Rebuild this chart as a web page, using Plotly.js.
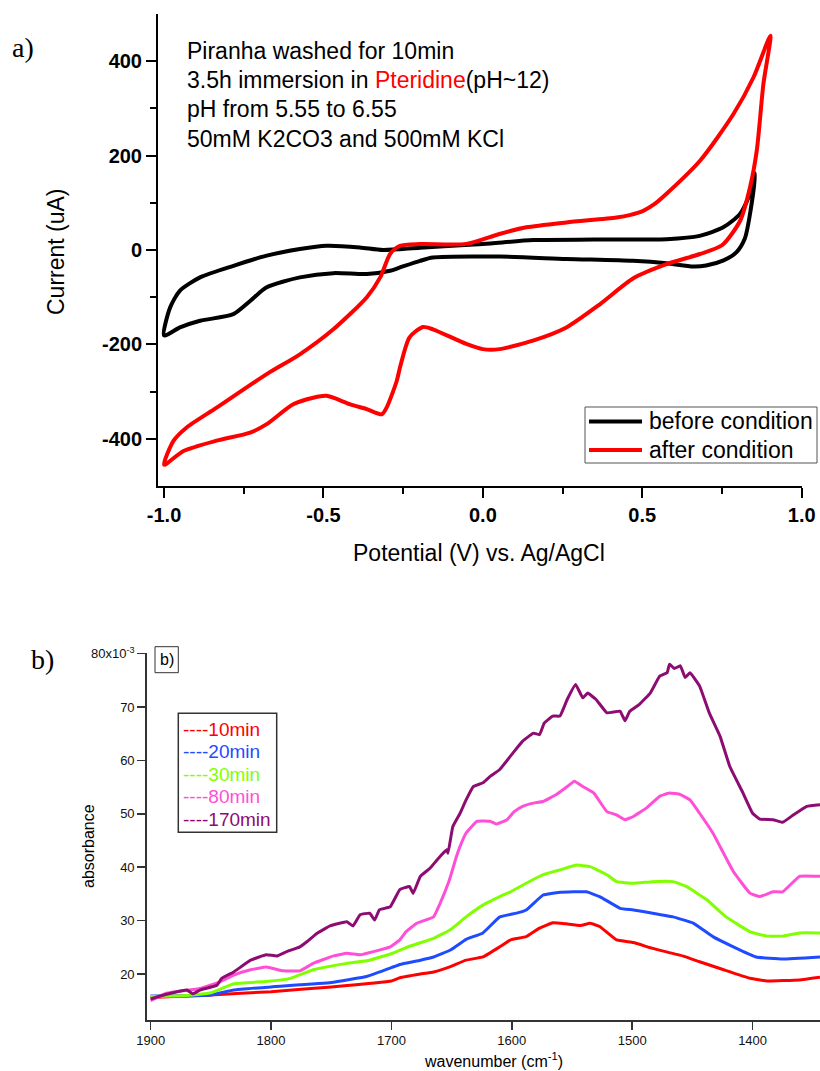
<!DOCTYPE html>
<html>
<head>
<meta charset="utf-8">
<script src="https://cdn.plot.ly/plotly-3.0.1.min.js"></script>
<style>html,body{margin:0;padding:0;background:#fff;}#chart{width:820px;height:1071px;}</style>
</head>
<body>
<div id="chart"></div>
<script>
// ---------- Panel a) cyclic voltammetry data ----------
const beforePotential = [-1.0, -0.981, -0.95, -0.887, -0.78, -0.678, -0.574, -0.49, -0.386, -0.313, -0.197, 0.0, 0.158, 0.35, 0.576, 0.68, 0.754, 0.807, 0.835, 0.854,
  0.84, 0.822, 0.795, 0.755, 0.70, 0.66, 0.576, 0.471, 0.262, 0.052, -0.157, -0.197, -0.26, -0.291, -0.364, -0.469, -0.574, -0.678, -0.73, -0.783, -0.887, -0.95, -1.0];
const beforeCurrent = [-181, -122, -86, -58, -33, -12, 2, 9, 5.5, 0, 5, 12.7, 21, 22, 23, 30, 48, 77, 115, 162,
  85, 25, -5, -22, -33, -35, -28, -23, -19, -14, -16, -23, -37, -44, -51, -49, -58, -79, -108, -136, -150, -164, -181];

const afterPotential = [-1.0, -0.97, -0.929, -0.835, -0.678, -0.574, -0.469, -0.364, -0.322, -0.291, -0.26, -0.197, -0.052, 0.052, 0.136, 0.262, 0.419, 0.46, 0.503, 0.54, 0.576, 0.681, 0.786, 0.849, 0.902,
  0.880, 0.859, 0.838, 0.807, 0.75, 0.681, 0.576, 0.472, 0.367, 0.262, 0.157, 0.052, 0.0, -0.052, -0.157, -0.188, -0.23, -0.26, -0.27, -0.302, -0.317, -0.364, -0.416, -0.49, -0.532, -0.595, -0.678, -0.73, -0.835, -0.939, -1.0];
const afterCurrent = [-455, -404, -376, -334, -263, -221, -168, -100, -58, -8.5, 9, 12.7, 13, 34, 48, 58.5, 69, 74, 83, 98, 119, 189, 288, 366, 454,
  352, 210, 133, 62, 10, -8.5, -30, -60, -115, -164, -192, -210, -210, -199, -168, -163, -185, -249, -277, -334, -348, -337, -327, -309, -313, -327, -369, -387, -404, -426, -455];

const cvSeriesNames = ["before condition", "after condition"];
const cvXTickVals = [-1.0, -0.5, 0.0, 0.5, 1.0];
const cvXTickText = ["-1.0", "-0.5", "0.0", "0.5", "1.0"];
const cvYTickVals = [-400, -200, 0, 200, 400];
const cvYTickText = ["-400", "-200", "0", "200", "400"];

// ---------- Panel b) IR absorbance data (values in 10^-3) ----------
const wn10 = [1900, 1870, 1850, 1800, 1750, 1700, 1693, 1676, 1665, 1651, 1638, 1624, 1610, 1601, 1588, 1577, 1566, 1555, 1543, 1535, 1527, 1513, 1499, 1483, 1458, 1444, 1424, 1402, 1388, 1361, 1344];
const abs10 = [15.6, 15.9, 16.1, 16.7, 17.6, 18.7, 19.3, 20.0, 20.4, 21.4, 22.6, 23.2, 25.1, 26.4, 27.0, 28.6, 29.6, 29.4, 29.1, 29.5, 28.9, 26.4, 25.9, 24.8, 23.4, 22.3, 20.8, 19.2, 18.7, 18.9, 19.4];

const wn20 = [1900, 1880, 1850, 1831, 1800, 1750, 1720, 1700, 1693, 1676, 1665, 1651, 1638, 1624, 1610, 1596, 1588, 1574, 1560, 1538, 1527, 1510, 1499, 1483, 1466, 1449, 1433, 1416, 1397, 1375, 1344];
const abs20 = [15.9, 15.9, 16.1, 17.0, 17.6, 18.4, 19.6, 21.2, 21.8, 22.6, 23.2, 24.5, 26.5, 27.7, 30.7, 31.4, 32.0, 34.8, 35.3, 35.4, 34.5, 32.3, 32.0, 31.4, 30.7, 29.5, 27.0, 25.1, 23.2, 22.8, 23.2];

const wn30 = [1900, 1870, 1850, 1831, 1804, 1784, 1765, 1737, 1718, 1699, 1685, 1665, 1651, 1638, 1624, 1610, 1601, 1588, 1574, 1560, 1546, 1535, 1521, 1513, 1499, 1483, 1466, 1455, 1438, 1422, 1402, 1388, 1375, 1361, 1344];
const abs30 = [15.8, 16.0, 16.5, 18.2, 18.6, 19.2, 20.8, 22.0, 22.6, 23.9, 25.2, 26.7, 28.3, 30.7, 32.9, 34.5, 35.4, 37.0, 38.6, 39.5, 40.4, 40.1, 38.6, 37.3, 37.0, 37.3, 37.3, 36.4, 33.9, 30.7, 27.9, 27.1, 27.1, 27.7, 27.7];

const wn80 = [1900, 1887, 1859, 1842, 1831, 1817, 1804, 1790, 1776, 1765, 1748, 1737, 1726, 1715, 1701, 1693, 1688, 1679, 1665, 1660, 1652, 1646, 1643, 1638, 1629, 1618, 1613, 1604, 1598, 1591, 1582, 1574, 1563, 1554, 1548, 1541, 1532, 1521, 1513, 1506, 1499, 1488, 1477, 1469, 1460, 1452, 1444, 1433, 1416, 1402, 1394, 1383, 1375, 1361, 1344];
const abs80 = [15.0, 16.4, 17.3, 18.6, 19.8, 20.8, 21.3, 20.6, 20.6, 22.0, 23.4, 23.9, 23.6, 24.2, 25.1, 26.4, 27.9, 29.5, 30.7, 33.0, 37.5, 42.0, 43.9, 46.4, 48.6, 48.6, 48.1, 48.9, 50.4, 51.4, 52.0, 52.3, 53.6, 55.1, 56.1, 55.1, 53.9, 50.4, 49.8, 48.9, 49.5, 51.1, 53.3, 53.9, 53.6, 52.6, 50.1, 46.4, 39.2, 35.1, 34.5, 35.4, 35.4, 38.3, 38.3];

const wn170 = [1900, 1895, 1878, 1870, 1865, 1859, 1845, 1841, 1831, 1817, 1804, 1795, 1787, 1776, 1770, 1762, 1751, 1737, 1732, 1726, 1718, 1714, 1710, 1701, 1693, 1685, 1682, 1676, 1668, 1662, 1654, 1653, 1649, 1643, 1638, 1632, 1624, 1618, 1610, 1599, 1591, 1582, 1577, 1573, 1566, 1560, 1554, 1547, 1541, 1537, 1530, 1521, 1510, 1506, 1502, 1494, 1485, 1477, 1471, 1469, 1465, 1460, 1456, 1452, 1444, 1436, 1427, 1419, 1408, 1400, 1394, 1383, 1375, 1366, 1355, 1344];
const abs170 = [15.3, 15.7, 16.7, 17.0, 16.3, 17.0, 17.9, 19.2, 20.4, 22.6, 23.6, 23.4, 24.2, 25.1, 26.1, 27.6, 29.0, 29.8, 29.0, 31.1, 31.4, 30.1, 32.0, 32.6, 35.8, 36.4, 35.1, 38.3, 39.8, 41.4, 43.3, 42.6, 47.6, 50.1, 52.6, 55.1, 55.8, 57.0, 58.3, 61.4, 63.6, 65.1, 64.8, 67.0, 68.3, 68.3, 71.4, 74.2, 71.7, 72.6, 71.4, 68.9, 69.2, 67.4, 69.2, 70.5, 72.6, 75.8, 76.4, 78.0, 77.2, 77.7, 75.5, 76.4, 73.9, 68.9, 64.5, 58.9, 53.9, 50.1, 49.0, 48.9, 48.4, 49.8, 51.4, 51.7];

const irNames = ["10min", "20min", "30min", "80min", "170min"];
const irXTickVals = [1900, 1800, 1700, 1600, 1500, 1400];
const irXTickText = ["1900", "1800", "1700", "1600", "1500", "1400"];
const irYTickVals = [20, 30, 40, 50, 60, 70, 80];
const irYTickText = ["20", "30", "40", "50", "60", "70", "80x10<sup>-3</sup>"];

// ---------- styling / layout ----------
const W = 820, H = 1071;
const px = v => v / W;
const py = v => 1 - v / H;
const SANS = "Liberation Sans, Arial, Helvetica, sans-serif";
const SERIF = "Liberation Serif, Times New Roman, serif";
const cvColors = ["#000000", "#ff0000"];
const irColors = ["#ff0000", "#1f4bff", "#80ff00", "#ff4fd6", "#8c0c72"];

const traces = [
  {x: beforePotential, y: beforeCurrent, name: cvSeriesNames[0], type: "scatter", mode: "lines",
   line: {color: cvColors[0], width: 4, shape: "spline", smoothing: 0.7}, xaxis: "x", yaxis: "y", showlegend: false},
  {x: afterPotential, y: afterCurrent, name: cvSeriesNames[1], type: "scatter", mode: "lines",
   line: {color: cvColors[1], width: 4, shape: "spline", smoothing: 0.7}, xaxis: "x", yaxis: "y", showlegend: false}
];
const irX = [wn10, wn20, wn30, wn80, wn170];
const irY = [abs10, abs20, abs30, abs80, abs170];
for (let i = 0; i < irNames.length; i++) {
  traces.push({x: irX[i], y: irY[i], name: irNames[i], type: "scatter", mode: "lines",
    line: {color: irColors[i], width: 3, shape: "spline", smoothing: 0.3}, xaxis: "x2", yaxis: "y2", showlegend: false});
}

const annotations = [
  {text: "a)", x: px(23), y: py(48), xref: "paper", yref: "paper", showarrow: false, xanchor: "center", yanchor: "middle", font: {family: SERIF, size: 28, color: "#000"}},
  {text: "b)", x: px(42), y: py(659), xref: "paper", yref: "paper", showarrow: false, xanchor: "center", yanchor: "middle", font: {family: SERIF, size: 28, color: "#000"}},
  {text: "Current (uA)", textangle: -90, x: px(56), y: py(252), xref: "paper", yref: "paper", showarrow: false, xanchor: "center", yanchor: "middle", font: {family: SANS, size: 23, color: "#000"}},
  {text: "Potential (V) vs. Ag/AgCl", x: px(479), y: py(553), xref: "paper", yref: "paper", showarrow: false, xanchor: "center", yanchor: "middle", font: {family: SANS, size: 23, color: "#000"}},
  {text: "absorbance", textangle: -90, x: px(88), y: py(846), xref: "paper", yref: "paper", showarrow: false, xanchor: "center", yanchor: "middle", font: {family: SANS, size: 16, color: "#000"}},
  {text: "wavenumber (cm<sup>-1</sup>)", x: px(493), y: py(1060), xref: "paper", yref: "paper", showarrow: false, xanchor: "center", yanchor: "middle", font: {family: SANS, size: 16, color: "#000"}},
  {text: "b)", x: px(166.7), y: py(659.7), xref: "paper", yref: "paper", showarrow: false, xanchor: "center", yanchor: "middle", font: {family: SANS, size: 16, color: "#000"}}
];
const infoLines = ["Piranha washed for 10min",
  "3.5h immersion in <span style=\"color:#ff0000\">Pteridine</span>(pH~12)",
  "pH from 5.55 to 6.55",
  "50mM K2CO3 and 500mM KCl"];
const infoY = [51, 80.5, 109.5, 139];
infoLines.forEach((t, i) => annotations.push({text: t, x: px(185), y: py(infoY[i]), xref: "paper", yref: "paper", showarrow: false,
  xanchor: "left", yanchor: "middle", font: {family: SANS, size: 23, color: "#000"}}));

// legends drawn as boxes, line samples and labels
const shapes = [
  {type: "rect", xref: "paper", yref: "paper", x0: px(585), x1: px(817), y0: py(463), y1: py(407), line: {color: "#555", width: 1}, fillcolor: "#fff", layer: "above"},
  {type: "rect", xref: "paper", yref: "paper", x0: px(178.3), x1: px(276.7), y0: py(832.3), y1: py(713.3), line: {color: "#333", width: 1.5}, fillcolor: "rgba(0,0,0,0)", layer: "above"},
  {type: "rect", xref: "paper", yref: "paper", x0: px(155), x1: px(178.3), y0: py(672.7), y1: py(646.7), line: {color: "#333", width: 1}, fillcolor: "rgba(0,0,0,0)", layer: "above"}
];
const cvLegY = [421.5, 450];
cvSeriesNames.forEach((n, i) => {
  shapes.push({type: "line", xref: "paper", yref: "paper", x0: px(589), x1: px(642), y0: py(cvLegY[i]), y1: py(cvLegY[i]), line: {color: cvColors[i], width: 4}, layer: "above"});
  annotations.push({text: n, x: px(647), y: py(cvLegY[i]), xref: "paper", yref: "paper", showarrow: false, xanchor: "left", yanchor: "middle", font: {family: SANS, size: 23, color: "#000"}});
});
const irLegY = [729, 751.5, 774, 796.5, 819];
irNames.forEach((n, i) => annotations.push({text: "----" + n, x: px(181), y: py(irLegY[i]), xref: "paper", yref: "paper", showarrow: false,
  xanchor: "left", yanchor: "middle", font: {family: SANS, size: 19, color: irColors[i]}}));

const layout = {
  width: W, height: H,
  margin: {l: 0, r: 0, t: 0, b: 0, pad: 0},
  paper_bgcolor: "#fff", plot_bgcolor: "#fff",
  showlegend: false,
  xaxis: {domain: [px(158), px(802)], range: [-1.019, 1.001], anchor: "y", showgrid: false, zeroline: false,
    showline: true, linecolor: "#000", linewidth: 2, ticks: "outside", ticklen: 10, tickwidth: 2, tickcolor: "#000",
    tickmode: "array", tickvals: cvXTickVals, ticktext: cvXTickText, automargin: false,
    tickfont: {family: SANS, size: 20, color: "#000", weight: "bold"},
    minor: {tickmode: "array", tickvals: [-0.75, -0.25, 0.25, 0.75], ticks: "outside", ticklen: 6, tickwidth: 2, tickcolor: "#000", showgrid: false}},
  yaxis: {domain: [py(486), py(14)], range: [-500, 500], anchor: "x", showgrid: false, zeroline: false,
    showline: true, linecolor: "#000", linewidth: 2, ticks: "outside", ticklen: 10, tickwidth: 2, tickcolor: "#000",
    tickmode: "array", tickvals: cvYTickVals, ticktext: cvYTickText, automargin: false,
    tickfont: {family: SANS, size: 20, color: "#000", weight: "bold"},
    minor: {tickmode: "array", tickvals: [-300, -100, 100, 300], ticks: "outside", ticklen: 6, tickwidth: 2, tickcolor: "#000", showgrid: false}},
  xaxis2: {domain: [px(146.7), 1], range: [1903.3, 1344], anchor: "y2", showgrid: false, zeroline: false,
    showline: true, linecolor: "#333", linewidth: 1.5, ticks: "outside", ticklen: 8, tickwidth: 1.5, tickcolor: "#333",
    tickmode: "array", tickvals: irXTickVals, ticktext: irXTickText, automargin: false,
    tickfont: {family: SANS, size: 13, color: "#111"}},
  yaxis2: {domain: [py(1020), py(653)], range: [11.4, 80.1], anchor: "x2", showgrid: false, zeroline: false,
    showline: true, linecolor: "#333", linewidth: 1.5, ticks: "outside", ticklen: 8, tickwidth: 1.5, tickcolor: "#333",
    tickmode: "array", tickvals: irYTickVals, ticktext: irYTickText, automargin: false,
    tickfont: {family: SANS, size: 13, color: "#111"}},
  annotations: annotations,
  shapes: shapes
};

Plotly.newPlot("chart", traces, layout, {displayModeBar: false, staticPlot: true});
</script>
</body>
</html>
